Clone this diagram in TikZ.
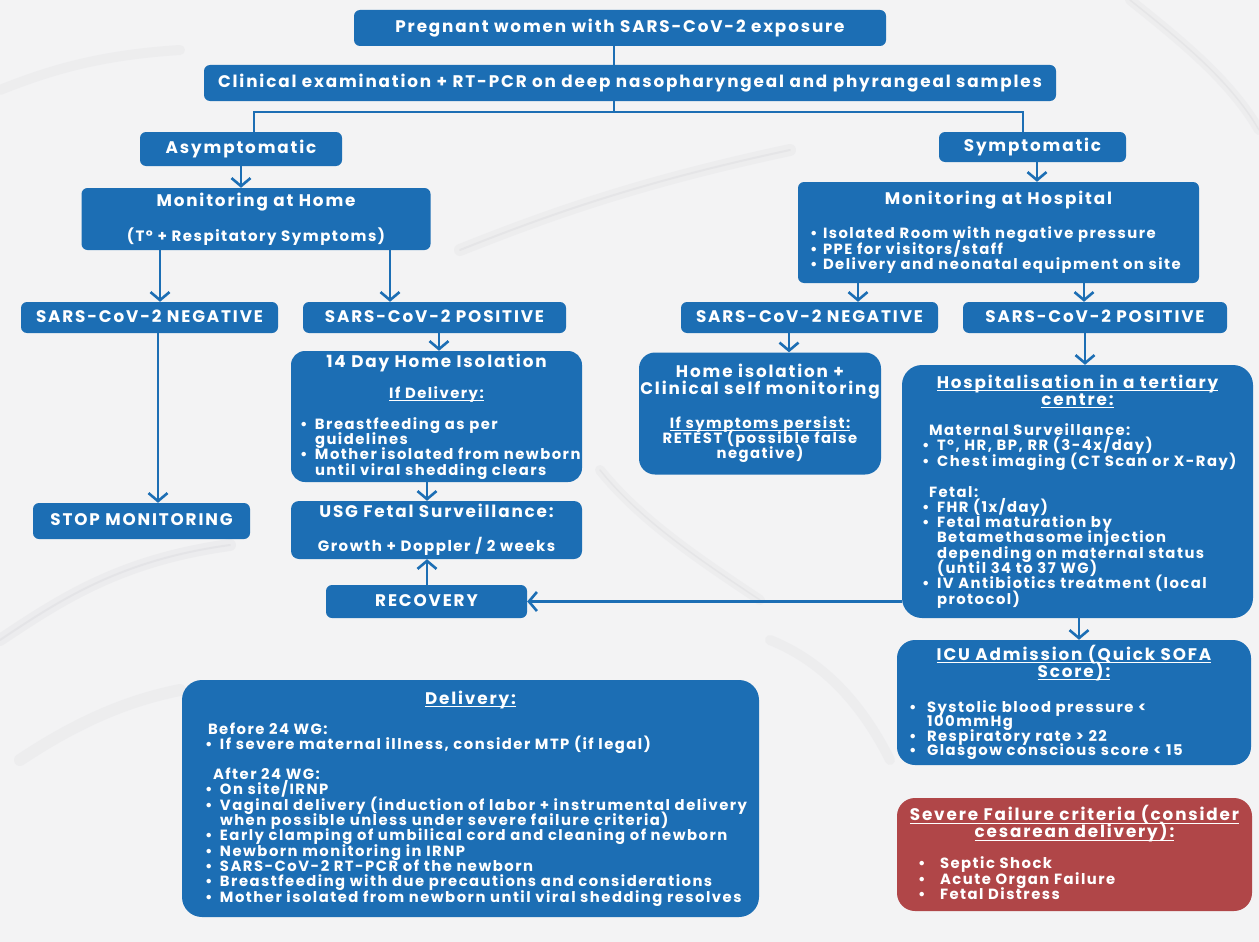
\documentclass[tikz,border=0pt]{standalone}
\usepackage{fontspec}
\setmainfont{Poppins}[LetterSpace=10]
\newfontfamily\tfam{Poppins}[LetterSpace=11]
\usetikzlibrary{arrows.meta}
\definecolor{bblue}{RGB}{28,110,180}
\definecolor{bred}{RGB}{176,70,72}
\definecolor{bgc}{RGB}{243,243,244}
\definecolor{veinc}{RGB}{200,200,204}
\newcommand\fb{\fontsize{14.8}{15.3}\selectfont}
\newcommand\ft{\tfam\fontsize{16.8}{15.3}\selectfont}
\newcommand\fm{\fontsize{15}{15.3}\selectfont}
\newcommand\st{\rule[-4pt]{0pt}{17.5pt}}
\newcommand\bu[2][15pt]{\makebox[#1][l]{•}#2}
\newcommand\ind[2][15pt]{\hspace*{#1}#2}
\newcommand\lrow[2]{\makebox[#1][l]{#2}}
\newsavebox\ulbox
\newcommand\ul[1]{\sbox\ulbox{#1}\rlap{\rule[-2.6pt]{\wd\ulbox}{0.9pt}}\usebox\ulbox}
\begin{document}
\begin{tikzpicture}[x=1pt,y=-1pt,
  box/.style={fill=bblue,text=white,inner sep=0pt,rounded corners=6pt,align=center,
    font={\bfseries\fb\lineskiplimit=-40pt\lineskip=0pt\relax}},
  ln/.style={draw=bblue,line width=2.6pt},
  arr/.style={draw=bblue,line width=2.6pt,-{Straight Barb[length=8pt,width=19pt]}},
  vein/.style={draw=veinc,line cap=round,opacity=0.2}]
\fill[bgc] (0,0) rectangle (1259,942);
\useasboundingbox (0,0) rectangle (1259,942);
% marble veins
\draw[vein,line width=12pt,opacity=0.15] (0,640) .. controls (60,600) and (120,560) .. (230,545);
\draw[vein,line width=2pt] (0,640) .. controls (60,600) and (120,560) .. (230,545);
\draw[vein,line width=12pt,opacity=0.13] (460,250) .. controls (560,210) and (650,180) .. (790,150);
\draw[vein,line width=2pt] (460,250) .. controls (560,210) and (650,180) .. (790,150);
\draw[vein,line width=10pt,opacity=0.13] (0,90) .. controls (50,70) and (100,55) .. (180,50);
\draw[vein,line width=10pt,opacity=0.13] (1130,0) .. controls (1180,40) and (1230,80) .. (1259,130);
\draw[vein,line width=1.5pt] (1130,0) .. controls (1180,40) and (1230,80) .. (1259,130);
\draw[vein,line width=12pt,opacity=0.13] (20,760) .. controls (80,720) and (130,700) .. (180,690);
\draw[vein,line width=10pt,opacity=0.13] (600,470) .. controls (640,520) and (700,560) .. (760,600);
\draw[vein,line width=1.5pt] (600,470) .. controls (640,520) and (700,560) .. (760,600);
\draw[vein,line width=10pt,opacity=0.13] (770,640) .. controls (820,660) and (860,700) .. (890,760);

% boxes
\node[box,minimum width=532pt,minimum height=36pt] (top) at (620,28) {\st\ft Pregnant women with SARS-CoV-2 exposure};
\node[box,minimum width=852pt,minimum height=36pt] (clin) at (630,83) {\st\ft Clinical examination + RT-PCR on deep nasopharyngeal and phyrangeal samples};
\node[box,minimum width=202pt,minimum height=34pt] (asym) at (241,149) {\st\ft Asymptomatic};
\node[box,minimum width=187pt,minimum height=30pt] (sym) at (1032.5,147) {\st\ft Symptomatic};
\node[box,minimum width=349pt,minimum height=62pt] (home) at (256,219) {{\st\ft Monitoring at Home}\\[19.7pt] {\fm (T° + Respitatory Symptoms)}\st};
\node[box,minimum width=257pt,minimum height=31pt] (neg1) at (149.5,317.5) {\st\ft SARS-CoV-2 NEGATIVE};
\node[box,minimum width=263pt,minimum height=31pt] (pos1) at (434.5,317.5) {\st\ft SARS-CoV-2 POSITIVE};
\node[box,minimum width=401pt,minimum height=101pt] (hosp) at (998.5,232.5) {{\st\ft Monitoring at Hospital}\\[18.7pt]
  \lrow{377pt}{\bu[13pt]{Isolated Room with negative pressure}}\\
  \lrow{377pt}{\bu[13pt]{PPE for visitors/staff}}\\
  \lrow{377pt}{\bu[13pt]{Delivery and neonatal equipment on site}}\st};
\node[box,minimum width=257pt,minimum height=31pt] (neg2) at (809.5,317.5) {\st\ft SARS-CoV-2 NEGATIVE};
\node[box,minimum width=264pt,minimum height=31pt] (pos2) at (1095,317.5) {\st\ft SARS-CoV-2 POSITIVE};
\node[box,minimum width=217pt,minimum height=36pt] (stop) at (141.5,521) {\st\ft STOP MONITORING};
\node[box,rounded corners=14pt,minimum width=291pt,minimum height=131pt] (iso14) at (436.5,416.5) {{\st\ft 14 Day Home Isolation}\\[15.7pt]
  \ul{If Delivery:}\\[15.7pt]
  \lrow{273pt}{\bu{Breastfeeding as per}}\\
  \lrow{273pt}{\ind{guidelines}}\\
  \lrow{273pt}{\bu{Mother isolated from newborn}}\\
  \lrow{273pt}{\ind{until viral shedding clears}}\st};
\node[box,rounded corners=8pt,minimum width=291pt,minimum height=58pt] (usg) at (436.5,530) {{\st\ft USG Fetal Surveillance:}\\[18.7pt] {\fm Growth + Doppler / 2 weeks}\st};
\node[box,minimum width=201pt,minimum height=33pt] (recov) at (426.5,601.5) {\st\ft RECOVERY};
\node[box,rounded corners=16pt,minimum width=242pt,minimum height=122pt] (homeiso) at (760,413.5) {{\st\ft Home isolation +}\\[1.4pt]
  {\ft Clinical self monitoring}\\[18.7pt]
  \ul{If symptoms persist:}\\
  RETEST (possible false\\
  negative)\st};
\node[box,rounded corners=20pt,minimum width=351pt,minimum height=253pt] (hospit) at (1077.5,491.5) {{\st\ft\ul{Hospitalisation in a tertiary}}\\[1.7pt]
  {\ft\ul{centre:}}\\[14.7pt]
  \lrow{311pt}{\hspace*{7pt}Maternal Surveillance:}\\
  \lrow{311pt}{\bu{T°, HR, BP, RR (3-4x/day)}}\\
  \lrow{311pt}{\bu{Chest imaging (CT Scan or X-Ray)}}\\[15.7pt]
  \lrow{311pt}{\hspace*{7pt}Fetal:}\\
  \lrow{311pt}{\bu{FHR (1x/day)}}\\
  \lrow{311pt}{\bu{Fetal maturation by}}\\
  \lrow{311pt}{\ind{Betamethasome injection}}\\
  \lrow{311pt}{\ind{depending on maternal status}}\\
  \lrow{311pt}{\ind{(until 34 to 37 WG)}}\\
  \lrow{311pt}{\bu{IV Antibiotics treatment (local}}\\
  \lrow{311pt}{\ind{protocol)}}\st};
\node[box,rounded corners=18pt,minimum width=354pt,minimum height=125pt] (icu) at (1074,702.5) {{\st\ft\ul{ICU Admission (Quick SOFA}}\\[1.7pt]
  {\ft\ul{Score):}}\\[19.7pt]
  \lrow{330pt}{\bu[18pt]{Systolic blood pressure <}}\\[-1pt]
  \lrow{330pt}{\ind[18pt]{100mmHg}}\\[-1pt]
  \lrow{330pt}{\bu[18pt]{Respiratory rate > 22}}\\[-1pt]
  \lrow{330pt}{\bu[18pt]{Glasgow conscious score < 15}}\st};
\node[box,fill=bred,rounded corners=18pt,minimum width=355pt,minimum height=113pt] (severe) at (1074.5,854.5) {{\st\ft\ul{Severe Failure criteria (consider}}\\[1.7pt]
  {\ft\ul{cesarean delivery):}}\\[15.7pt]
  \lrow{313pt}{\bu[22pt]{Septic Shock}}\\
  \lrow{313pt}{\bu[22pt]{Acute Organ Failure}}\\
  \lrow{313pt}{\bu[22pt]{Fetal Distress}}\st};
\node[box,rounded corners=20pt,minimum width=577pt,minimum height=237pt] (deliv) at (470.5,798.5) {{\st\ft\ul{Delivery:}}\\[14.7pt]
  \lrow{531pt}{\hspace*{3pt}Before 24 WG:}\\
  \lrow{531pt}{\bu{If severe maternal illness, consider MTP (if legal)}}\\[14.7pt]
  \lrow{531pt}{\hspace*{8pt}After 24 WG:}\\
  \lrow{531pt}{\bu{On site/IRNP}}\\
  \lrow{531pt}{\bu{Vaginal delivery (induction of labor + instrumental delivery}}\\
  \lrow{531pt}{\ind{when possible unless under severe failure criteria)}}\\
  \lrow{531pt}{\bu{Early clamping of umbilical cord and cleaning of newborn}}\\
  \lrow{531pt}{\bu{Newborn monitoring in IRNP}}\\
  \lrow{531pt}{\bu{SARS-CoV-2 RT-PCR of the newborn}}\\
  \lrow{531pt}{\bu{Breastfeeding with due precautions and considerations}}\\
  \lrow{531pt}{\bu{Mother isolated from newborn until viral shedding resolves}}\st};

% connector x positions
\coordinate (sp) at (614,112);
\coordinate (a1) at (254,0);
\coordinate (s1) at (1023,0);
\coordinate (h1) at (160,0);
\coordinate (h2) at (390,0);
\coordinate (n1) at (158,0);
\coordinate (p1) at (439,0);
\coordinate (u1) at (427,0);
\coordinate (y1) at (1037,0);
\coordinate (m1) at (858,0);
\coordinate (m2) at (1084,0);
\coordinate (r1) at (789,0);
\coordinate (r2) at (1085,0);
\coordinate (r3) at (1079,0);

\draw[ln] (top.south -| sp) -- (clin.north -| sp);
\draw[ln] (clin.south -| sp) -- (sp);
\draw[ln] (asym.north -| a1) |- (sp) -| (sym.north -| s1);
\draw[arr] (asym.south) -- (asym.south |- home.north);
\draw[arr] (home.south -| h1) -- (neg1.north -| h1);
\draw[arr] (home.south -| h2) -- (pos1.north -| h2);
\draw[arr] (neg1.south -| n1) -- (stop.north -| n1);
\draw[arr] (pos1.south -| p1) -- (iso14.north -| p1);
\draw[arr] (iso14.south -| u1) -- (usg.north -| u1);
\draw[arr] (recov.north -| u1) -- (usg.south -| u1);
\draw[arr] (hospit.west |- recov.east) -- (recov.east);
\draw[arr] (sym.south -| y1) -- (hosp.north -| y1);
\draw[arr] (hosp.south -| m1) -- (neg2.north -| m1);
\draw[arr] (hosp.south -| m2) -- (pos2.north -| m2);
\draw[arr] (neg2.south -| r1) -- (homeiso.north -| r1);
\draw[arr] (pos2.south -| r2) -- (hospit.north -| r2);
\draw[arr] (hospit.south -| r3) -- (icu.north -| r3);
\end{tikzpicture}
\end{document}
